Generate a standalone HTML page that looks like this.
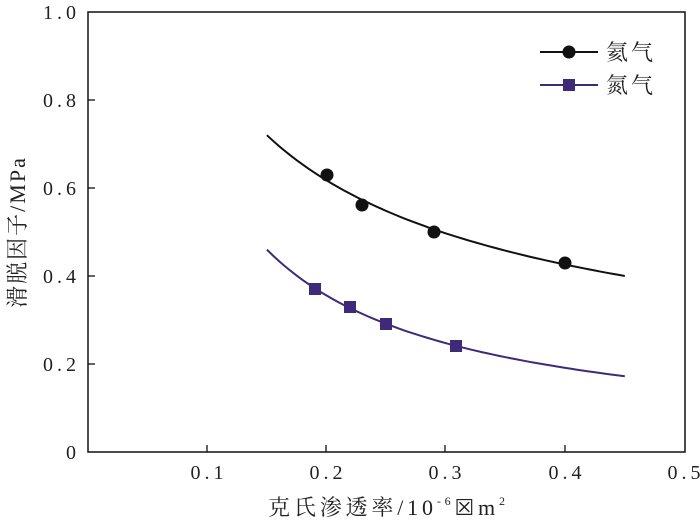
<!DOCTYPE html>
<html><head><meta charset="utf-8"><style>
body{margin:0;background:#fff}
svg text{font-family:"Liberation Serif","Noto Serif CJK SC",serif;fill:#222}
</style></head><body>
<svg id="s" width="700" height="524" viewBox="0 0 700 524" xmlns="http://www.w3.org/2000/svg">
<rect x="88" y="12" width="597" height="440" fill="none" stroke="#111" stroke-width="1.5"/>
<g stroke="#111" stroke-width="1.3">
<line x1="207" y1="452" x2="207" y2="445"/><line x1="326" y1="452" x2="326" y2="445"/>
<line x1="445" y1="452" x2="445" y2="445"/><line x1="565" y1="452" x2="565" y2="445"/>
<line x1="88" y1="364" x2="95" y2="364"/><line x1="88" y1="276" x2="95" y2="276"/>
<line x1="88" y1="188" x2="95" y2="188"/><line x1="88" y1="100" x2="95" y2="100"/>
</g>
<g font-size="20" text-anchor="middle" letter-spacing="4">
<text x="209" y="479">0.1</text><text x="328" y="479">0.2</text><text x="447" y="479">0.3</text><text x="567" y="479">0.4</text><text x="686" y="479">0.5</text>
</g>
<g font-size="20" text-anchor="end" letter-spacing="4">
<text x="80" y="459">0</text><text x="80" y="371">0.2</text><text x="80" y="283">0.4</text><text x="80" y="195">0.6</text><text x="80" y="107">0.8</text><text x="80" y="19">1.0</text>
</g>
<text x="268" y="515" font-size="22" textLength="237" lengthAdjust="spacing">克氏渗透率/10<tspan font-size="12" dy="-10">-6</tspan><tspan dy="10">☒m</tspan><tspan font-size="12" dy="-10">2</tspan></text>
<text transform="translate(25,232) rotate(-90)" font-size="22" text-anchor="middle" letter-spacing="2">滑脱因子/MPa</text>
<path id="c1" fill="none" stroke="#111" stroke-width="2"/>
<path id="c2" fill="none" stroke="#3d2a78" stroke-width="2"/>
<g fill="#111">
<circle cx="327" cy="175" r="6.5"/><circle cx="362" cy="205" r="6.5"/><circle cx="434" cy="232" r="6.5"/><circle cx="565" cy="263" r="6.5"/>
</g>
<g fill="#3d2a78">
<rect x="309" y="283" width="12" height="12"/><rect x="344" y="301" width="12" height="12"/><rect x="380" y="318" width="12" height="12"/><rect x="450" y="340" width="12" height="12"/>
</g>
<line x1="540" y1="52" x2="598" y2="52" stroke="#111" stroke-width="2"/><circle cx="569" cy="52" r="6.5" fill="#111"/>
<line x1="540" y1="85" x2="598" y2="85" stroke="#3d2a78" stroke-width="2"/><rect x="563" y="79" width="12" height="12" fill="#3d2a78"/>
<text x="606" y="60" font-size="22" letter-spacing="3">氦气</text>
<text x="606" y="93" font-size="22" letter-spacing="3">氮气</text>
</svg>
<script>
function mk(a,b){var d="";for(var i=0;i<=60;i++){var x=0.15+0.3*i/60,y=a*Math.pow(x/0.15,b);d+=(i?"L":"M")+(88+x*1193).toFixed(1)+","+(452-y*440).toFixed(1);}return d;}
document.getElementById("c1").setAttribute("d",mk(0.72,-0.535));
document.getElementById("c2").setAttribute("d",mk(0.46,-0.895));
</script>
</body></html>
